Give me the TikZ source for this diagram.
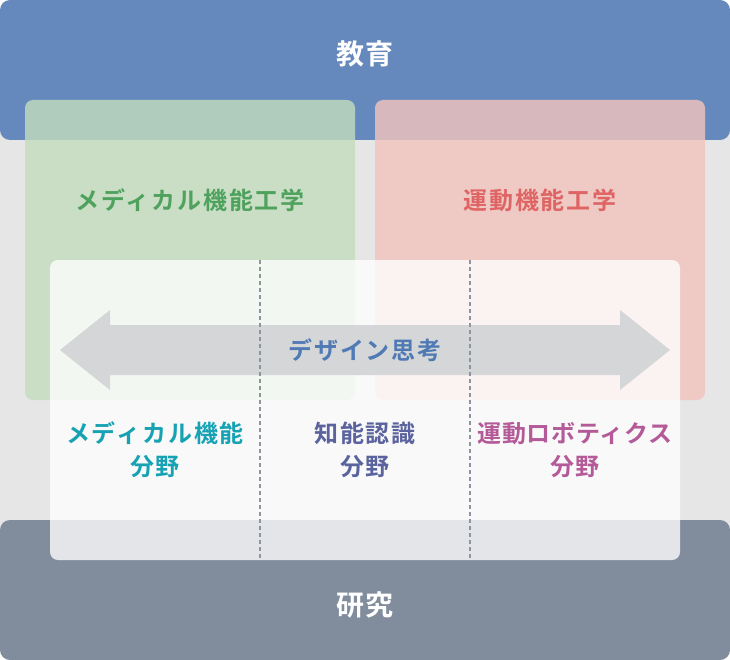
\documentclass[tikz,border=0pt]{standalone}
\usepackage{fontspec}
\setmainfont{Noto Sans CJK JP}[BoldFont={Noto Sans CJK JP Bold}]
\begin{document}
\definecolor{bgGray}{HTML}{E6E6E6}
\definecolor{eduBlue}{HTML}{6689BD}
\definecolor{resGray}{HTML}{818C9C}
\definecolor{greenBox}{RGB}{194,221,189}
\definecolor{redBox}{RGB}{242,196,189}
\definecolor{arrowGray}{HTML}{D5D6D7}
\definecolor{dashGray}{HTML}{8C95A0}
\definecolor{greenTxt}{HTML}{4FA25D}
\definecolor{redTxt}{HTML}{DF6565}
\definecolor{blueTxt}{HTML}{4F7AB4}
\definecolor{tealTxt}{HTML}{17A2B4}
\definecolor{navyTxt}{HTML}{5B639E}
\definecolor{pinkTxt}{HTML}{B45A98}
\begin{tikzpicture}[x=1pt,y=-1pt,
  bigbox/.style={rounded corners=10pt},
  areabox/.style={rounded corners=8pt, fill opacity=0.8},
  lbl/.style={font=\fontsize{24}{33}\selectfont\bfseries\addfontfeatures{LetterSpace=8}, align=center, inner sep=0pt},
  lblnarrow/.style={font=\fontsize{24}{33}\selectfont\bfseries\addfontfeatures{LetterSpace=3}, align=center, inner sep=0pt},
  headlbl/.style={font=\fontsize{28}{34}\selectfont\bfseries\addfontfeatures{LetterSpace=4}, text=white, inner sep=0pt},
  divider/.style={draw=dashGray, line width=1.3pt, dash pattern=on 4pt off 3pt}]
\useasboundingbox (0,0) rectangle (730,660);
% background
\fill[bgGray] (0,125) rectangle (730,535);
% education / research bands
\fill[eduBlue, bigbox] (0,0) rectangle (730,140);
\fill[resGray, bigbox] (0,520) rectangle (730,660);
% areas
\fill[greenBox, areabox] (25,100) rectangle (355,400);
\fill[redBox, areabox] (375,100) rectangle (705,400);
% white panel
\fill[white, rounded corners=8pt, fill opacity=0.78] (50,260) rectangle (680,560);
% double arrow
\fill[arrowGray] (60,350) -- (110,310) -- (110,325) -- (620,325) -- (620,310)
  -- (670,350) -- (620,390) -- (620,375) -- (110,375) -- (110,390) -- cycle;
% dividers
\coordinate (d1t) at (260,260); \coordinate (d1b) at (260,560);
\coordinate (d2t) at (470,260); \coordinate (d2b) at (470,560);
\draw[divider] (d1t) -- (d1b);
\draw[divider] (d2t) -- (d2b);
% texts
\node[headlbl] (edu) at (365,54) {教育};
\node[headlbl] (res) at (365,605) {研究};
\node[lbl, text=greenTxt] (med) at (190,200) {メディカル機能工学};
\node[lbl, text=redTxt] (mot) at (540,200) {運動機能工学};
\node[lbl, text=blueTxt] (des) at (365,350) {デザイン思考};
\node[lbl, text=tealTxt] (f1) at (155,450) {メディカル機能\\分野};
\node[lbl, text=navyTxt] (f2) at (365,450) {知能認識\\分野};
\node[lblnarrow, text=pinkTxt] (f3) at (575,450) {運動ロボティクス\\分野};
\end{tikzpicture}
\end{document}
